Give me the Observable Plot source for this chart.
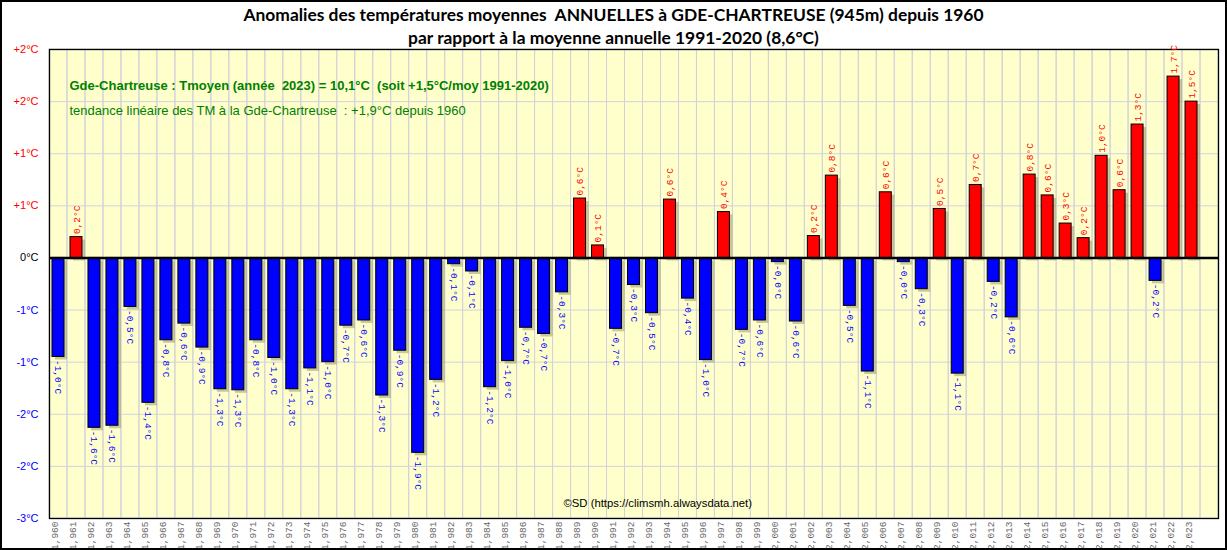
<!DOCTYPE html>
<html><head><meta charset="utf-8">
<script src="https://cdn.jsdelivr.net/npm/d3@7"></script>
<script src="https://cdn.jsdelivr.net/npm/@observablehq/plot@0.6"></script>
<style>
body{margin:0;background:#fff;}
#wrap{position:relative;width:1227px;height:550px;overflow:hidden;background:#fff;}
#border{position:absolute;left:0;top:0;width:1227px;height:550px;box-sizing:border-box;border:2px solid #000;pointer-events:none;}
#title{height:42px;text-align:center;font-family:Lato,'Open Sans',sans-serif;font-weight:bold;font-size:17.4px;line-height:23px;padding-top:3px;box-sizing:border-box;color:#000;white-space:pre;}
#chart svg{display:block;}
</style></head><body>
<div id="wrap">
<div id="title"><div>Anomalies des températures moyennes  ANNUELLES à GDE-CHARTREUSE (945m) depuis 1960</div><div>par rapport à la moyenne annuelle 1991-2020 (8,6°C)</div></div>
<div id="chart"></div>
<div id="border"></div>
</div>
<script>
const years = [1960,1961,1962,1963,1964,1965,1966,1967,1968,1969,
  1970,1971,1972,1973,1974,1975,1976,1977,1978,1979,
  1980,1981,1982,1983,1984,1985,1986,1987,1988,1989,
  1990,1991,1992,1993,1994,1995,1996,1997,1998,1999,
  2000,2001,2002,2003,2004,2005,2006,2007,2008,2009,
  2010,2011,2012,2013,2014,2015,2016,2017,2018,2019,
  2020,2021,2022,2023];
const anomalies = [-0.95,0.20,-1.63,-1.61,-0.47,-1.39,-0.79,-0.63,-0.86,-1.26,
  -1.27,-0.79,-0.96,-1.26,-1.06,-1.00,-0.65,-0.60,-1.32,-0.89,
  -1.87,-1.17,-0.06,-0.13,-1.24,-0.99,-0.67,-0.73,-0.33,0.57,
  0.12,-0.68,-0.26,-0.53,0.56,-0.39,-0.98,0.44,-0.69,-0.60,
  -0.04,-0.61,0.21,0.79,-0.46,-1.09,0.63,-0.04,-0.30,0.47,
  -1.11,0.70,-0.23,-0.57,0.80,0.60,0.33,0.19,0.98,0.65,
  1.28,-0.22,1.74,1.50];
const valueLabels = ["-1,0","0,2","-1,6","-1,6","-0,5","-1,4","-0,8","-0,6","-0,9","-1,3",
  "-1,3","-0,8","-1,0","-1,3","-1,1","-1,0","-0,7","-0,6","-1,3","-0,9",
  "-1,9","-1,2","-0,1","-0,1","-1,2","-1,0","-0,7","-0,7","-0,3","0,6",
  "0,1","-0,7","-0,3","-0,5","0,6","-0,4","-1,0","0,4","-0,7","-0,6",
  "-0,0","-0,6","0,2","0,8","-0,5","-1,1","0,6","-0,0","-0,3","0,5",
  "-1,1","0,7","-0,2","-0,6","0,8","0,6","0,3","0,2","1,0","0,6",
  "1,3","-0,2","1,7","1,5"];
const slots = [...years, 2024];
const yTicks = [2, 1.5, 1, 0.5, 0, -0.5, -1, -1.5, -2, -2.5];
const yTickLabels = ["+2°C","+2°C","+1°C","+1°C","0°C","-1°C","-1°C","-2°C","-2°C","-3°C"];
const noteLine1 = "Gde-Chartreuse : Tmoyen (année  2023) = 10,1°C  (soit +1,5°C/moy 1991-2020)";
const noteLine2 = "tendance linéaire des TM à la Gde-Chartreuse  : +1,9°C depuis 1960";
const credit = "©SD (https://climsmh.alwaysdata.net)";

const data = years.map((year, i) => ({year, value: anomalies[i], label: valueLabels[i] + "°C"}));
const ticks = yTicks.map((v, i) => ({v, label: yTickLabels[i]}));
const narrow = "'Liberation Sans Narrow','Arial Narrow','Liberation Sans',sans-serif";

const chart = Plot.plot({
  width: 1227, height: 508,
  marginTop: 7, marginLeft: 49, marginRight: 9, marginBottom: 32,
  x: {type: "band", domain: slots, padding: 0, axis: null},
  y: {domain: [-2.5, 2], axis: null},
  color: {type: "identity"},
  style: {background: "transparent", overflow: "visible"},
  marks: [
    Plot.frame({fill: "#ffffcc", stroke: "none"}),
    Plot.gridY(yTicks, {stroke: "#d2d2dc", strokeOpacity: 1, strokeWidth: 1}),
    Plot.barY(slots, {x: d => d, y1: -2.5, y2: 2, fill: "none", stroke: "#d2d2dc", strokeWidth: 1}),
    Plot.barY(data, {x: "year", y: "value", insetLeft: 3, insetRight: 3, fill: "#8a8a5a", fillOpacity: 0.45, dx: 3, dy: 3}),
    Plot.barY(data, {x: "year", y: "value", insetLeft: 3, insetRight: 3,
      fill: d => d.value >= 0 ? "#ff0000" : "#0000ff", stroke: "#000", strokeWidth: 1}),
    Plot.ruleY([0], {stroke: "#000", strokeWidth: 2.5}),
    Plot.frame({stroke: "#000", strokeWidth: 1.3}),
    Plot.text(data.filter(d => d.value >= 0), {x: "year", y: "value", text: "label", rotate: -90,
      textAnchor: "start", dy: -3, fill: "#ff0000", fontSize: 9.5, fontFamily: "'Liberation Mono',monospace"}),
    Plot.text(data.filter(d => d.value < 0), {x: "year", y: "value", text: "label", rotate: 90,
      textAnchor: "start", dy: 3, fill: "#0000ff", fontSize: 9.5, fontFamily: "'Liberation Mono',monospace"}),
    Plot.text(years, {x: d => d, frameAnchor: "bottom", rotate: -90, textAnchor: "end", dy: 3,
      fill: "#666", fontSize: 9.5, fontFamily: "'Liberation Mono',monospace"}),
    Plot.text(ticks, {y: "v", text: "label", frameAnchor: "left", textAnchor: "end", dx: -11,
      fill: d => d.v > 0 ? "#ff0000" : d.v < 0 ? "#0000ff" : "#000", fontSize: 11, fontFamily: narrow}),
    Plot.text([noteLine1], {frameAnchor: "top-left", textAnchor: "start", dx: 20, dy: 31,
      fill: "#008000", fontWeight: "bold", fontSize: 13, fontFamily: narrow}),
    Plot.text([noteLine2], {frameAnchor: "top-left", textAnchor: "start", dx: 20, dy: 56,
      fill: "#008000", fontSize: 13, fontFamily: narrow}),
    Plot.text([credit], {frameAnchor: "bottom-left", textAnchor: "start", dx: 514, dy: -12,
      fill: "#000", fontSize: 11.3, fontFamily: "'Liberation Sans',sans-serif"})
  ]
});
chart.querySelectorAll("text").forEach(t => t.setAttribute("xml:space", "preserve"));
document.getElementById("chart").appendChild(chart);
</script>
</body></html>
